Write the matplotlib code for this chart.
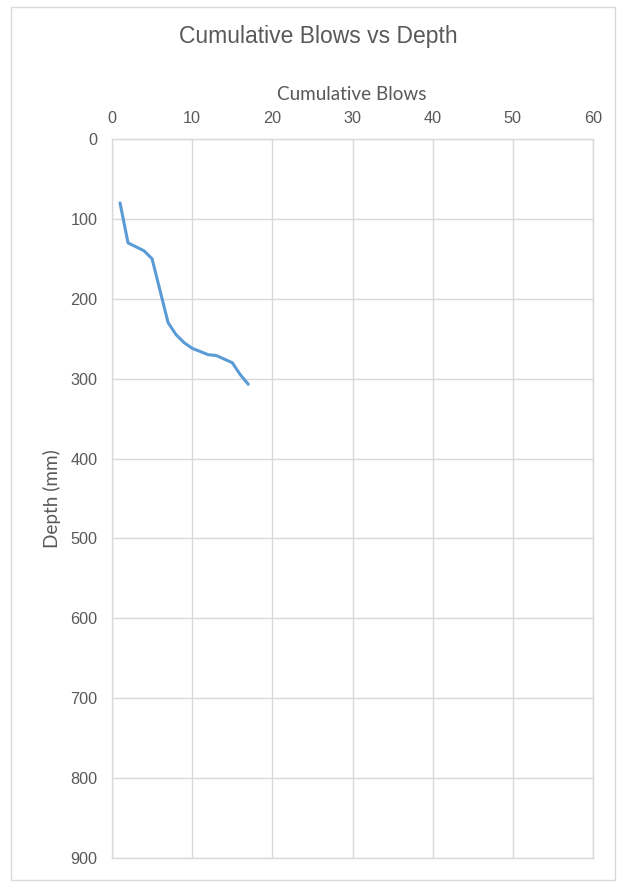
import matplotlib
matplotlib.use("Agg")
import matplotlib.pyplot as plt
from matplotlib.patches import Rectangle

# cumulative blows vs depth (mm)
blows = [1, 2, 4, 5, 7, 8, 9, 10, 12, 13, 15, 16, 17]
depth = [80, 130, 140, 150, 230, 245, 255, 262, 270, 271, 280, 295, 307]

x_ticks = [0, 10, 20, 30, 40, 50, 60]
y_ticks = [0, 100, 200, 300, 400, 500, 600, 700, 800, 900]

W, H = 621, 882
fig = plt.figure(figsize=(W / 100, H / 100), dpi=100)

# chart area border
fig.patches.append(Rectangle((11 / W, 2 / H), 604 / W, 873 / H, transform=fig.transFigure,
                             fill=False, edgecolor="#d9d9d9", linewidth=1))

ax = fig.add_axes([112 / W, (H - 858) / H, (593 - 112) / W, (858 - 139) / H])
ax.plot(blows, depth, color="#5b9bd5", linewidth=2.2, solid_capstyle="round")

ax.set_xlim(0, 60)
ax.set_ylim(900, 0)
ax.set_xticks(x_ticks)
ax.set_yticks(y_ticks)
ax.xaxis.tick_top()
ax.tick_params(length=0, labelsize=11.7, labelcolor="#595959")
ax.tick_params(axis="y", pad=10.5)
ax.tick_params(axis="x", pad=9)
for lab in ax.get_xticklabels() + ax.get_yticklabels():
    lab.set_family("Liberation Sans")
ax.grid(True, color="#d9d9d9", linewidth=1)
ax.set_axisbelow(True)
for s in ax.spines.values():
    s.set_color("#d9d9d9")
    s.set_linewidth(1)

fig.text(318 / W, 1 - 37 / H, "Cumulative Blows vs Depth", ha="center", va="center",
         fontsize=16.5, color="#595959", family="Liberation Sans")
fig.text(352 / W, 1 - 94 / H, "Cumulative Blows", ha="center", va="center",
         fontsize=13.6, color="#595959", family="Lato")
fig.text(52 / W, 1 - 499 / H, "Depth (mm)", ha="center", va="center", rotation=90,
         fontsize=13.6, color="#595959", family="Lato")

fig.savefig("out.png", dpi=100)
